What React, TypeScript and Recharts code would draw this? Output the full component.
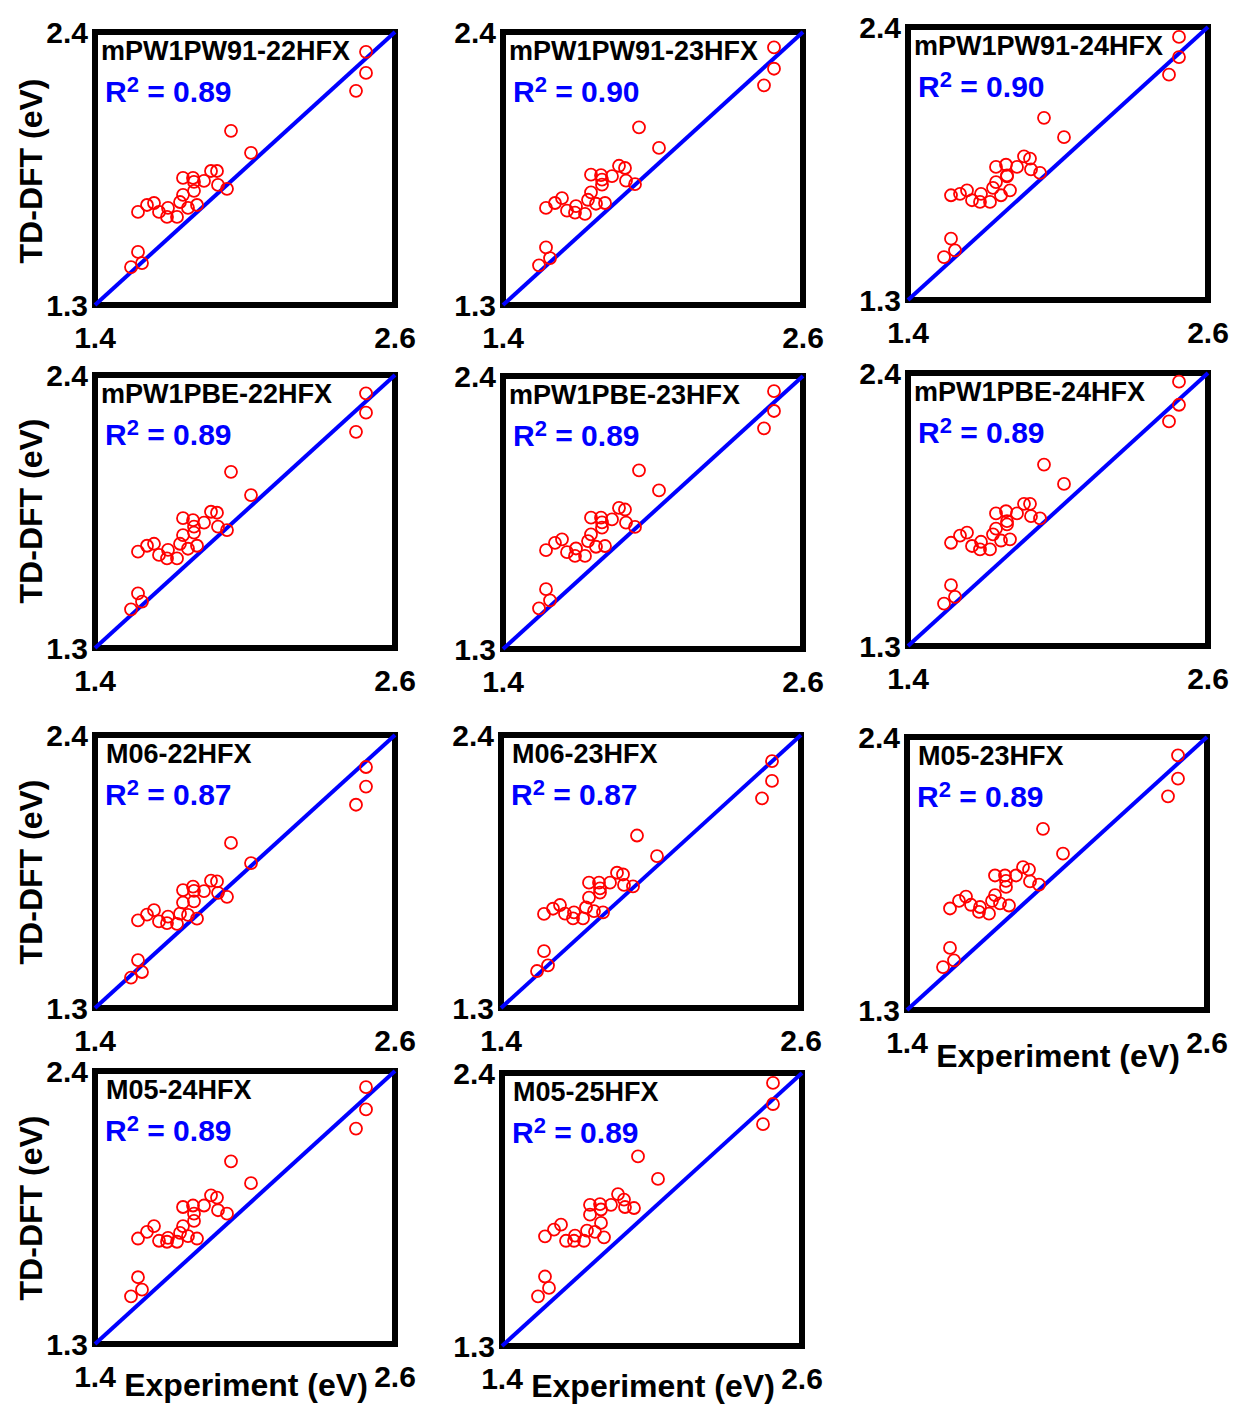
import React from "react";
import {
  ScatterChart,
  Scatter,
  XAxis,
  YAxis,
  ReferenceArea,
  ReferenceLine,
} from "recharts";

// experimental excitation energies (eV), same for every panel
const experiment = [
  2.484, 2.484, 2.444, 1.944, 2.024, 1.864, 1.888, 1.752, 1.792, 1.796,
  1.836, 1.892, 1.928, 1.796, 1.752, 1.740, 1.808, 1.772, 1.608, 1.636,
  1.572, 1.656, 1.692, 1.688, 1.728, 1.572, 1.588, 1.544,
];

// TD-DFT values (eV), one list per functional
const mPW1PW91_22 = [
  2.320, 2.235, 2.163, 2.002, 1.913, 1.840, 1.840, 1.812, 1.812, 1.796,
  1.800, 1.784, 1.768, 1.760, 1.744, 1.715, 1.703, 1.691, 1.703, 1.711,
  1.675, 1.675, 1.691, 1.655, 1.655, 1.514, 1.469, 1.453,
];
const mPW1PW91_23 = [
  2.338, 2.252, 2.185, 2.016, 1.933, 1.861, 1.852, 1.825, 1.823, 1.805,
  1.819, 1.801, 1.787, 1.785, 1.754, 1.724, 1.711, 1.708, 1.711, 1.731,
  1.691, 1.680, 1.698, 1.672, 1.667, 1.532, 1.489, 1.460,
];
const mPW1PW91_24 = [
  2.360, 2.279, 2.208, 2.034, 1.956, 1.879, 1.870, 1.836, 1.845, 1.802,
  1.836, 1.826, 1.812, 1.798, 1.775, 1.752, 1.742, 1.722, 1.728, 1.742,
  1.722, 1.702, 1.728, 1.695, 1.695, 1.547, 1.500, 1.473,
];
const mPW1PBE_22 = [
  2.326, 2.248, 2.171, 2.010, 1.916, 1.849, 1.845, 1.823, 1.815, 1.789,
  1.805, 1.789, 1.775, 1.765, 1.755, 1.720, 1.712, 1.700, 1.712, 1.720,
  1.688, 1.675, 1.695, 1.661, 1.661, 1.520, 1.487, 1.456,
];
const mPW1PBE_23 = [
  2.339, 2.259, 2.189, 2.020, 1.939, 1.869, 1.862, 1.829, 1.829, 1.810,
  1.822, 1.809, 1.792, 1.789, 1.762, 1.735, 1.715, 1.712, 1.728, 1.742,
  1.698, 1.690, 1.705, 1.675, 1.675, 1.541, 1.496, 1.464,
];
const mPW1PBE_24 = [
  2.365, 2.272, 2.205, 2.031, 1.953, 1.873, 1.873, 1.834, 1.843, 1.803,
  1.834, 1.823, 1.814, 1.790, 1.773, 1.750, 1.730, 1.725, 1.745, 1.757,
  1.716, 1.703, 1.720, 1.689, 1.689, 1.545, 1.498, 1.471,
];
const M06_22 = [
  2.271, 2.192, 2.119, 1.965, 1.884, 1.813, 1.810, 1.775, 1.789, 1.772,
  1.771, 1.764, 1.748, 1.730, 1.725, 1.680, 1.660, 1.675, 1.676, 1.694,
  1.653, 1.649, 1.668, 1.642, 1.639, 1.493, 1.445, 1.422,
];
const M06_23 = [
  2.295, 2.215, 2.145, 1.995, 1.912, 1.845, 1.838, 1.805, 1.805, 1.782,
  1.805, 1.796, 1.790, 1.765, 1.745, 1.705, 1.685, 1.690, 1.700, 1.715,
  1.679, 1.680, 1.685, 1.661, 1.661, 1.529, 1.472, 1.449,
];
const M05_23 = [
  2.326, 2.232, 2.161, 2.030, 1.930, 1.876, 1.866, 1.842, 1.842, 1.820,
  1.842, 1.818, 1.805, 1.796, 1.763, 1.740, 1.721, 1.730, 1.740, 1.757,
  1.709, 1.724, 1.715, 1.695, 1.688, 1.550, 1.500, 1.473,
];
const M05_24 = [
  2.335, 2.245, 2.168, 2.036, 1.948, 1.899, 1.890, 1.852, 1.858, 1.825,
  1.858, 1.839, 1.825, 1.796, 1.775, 1.748, 1.725, 1.735, 1.752, 1.775,
  1.725, 1.716, 1.728, 1.712, 1.712, 1.569, 1.519, 1.492,
];
const M05_25 = [
  2.360, 2.275, 2.194, 2.064, 1.973, 1.912, 1.890, 1.869, 1.872, 1.850,
  1.869, 1.860, 1.856, 1.796, 1.829, 1.765, 1.738, 1.760, 1.769, 1.789,
  1.742, 1.724, 1.745, 1.724, 1.724, 1.580, 1.534, 1.500,
];

const titles = [
  "mPW1PW91-22HFX", "mPW1PW91-23HFX", "mPW1PW91-24HFX",
  "mPW1PBE-22HFX", "mPW1PBE-23HFX", "mPW1PBE-24HFX",
  "M06-22HFX", "M06-23HFX", "M05-23HFX",
  "M05-24HFX", "M05-25HFX",
];
const r2Values = ["0.89", "0.90", "0.90", "0.89", "0.89", "0.89", "0.87", "0.87", "0.89", "0.89", "0.89"];
const series = [
  mPW1PW91_22, mPW1PW91_23, mPW1PW91_24,
  mPW1PBE_22, mPW1PBE_23, mPW1PBE_24,
  M06_22, M06_23, M05_23,
  M05_24, M05_25,
];
const xTicks = [1.4, 2.6];
const yTicks = [1.3, 2.4];

// plot-area top-left corner of every panel on the page
const layout = [
  [95, 32], [503, 32], [908, 27],
  [95, 375], [503, 376], [908, 373],
  [95, 735], [501, 735], [907, 737],
  [95, 1071], [502, 1073],
];
const PW = 300;
const PH = 273;
const YW = 70;
const MT = 24;
const MR = 40;

const font = "'Liberation Sans', Arial, Helvetica, sans-serif";

const Ring = (props: any) => {
  const { cx, cy } = props;
  if (cx == null || cy == null) return null;
  return <circle cx={cx} cy={cy} r={6} fill="none" stroke="#ff0000" strokeWidth={1.8} />;
};

function Panel({ idx }: { idx: number }) {
  const [left, top] = layout[idx];
  const data = experiment.map((x, i) => ({ x, y: series[idx][i] }));
  const tickStyle = { fontSize: 30, fontWeight: "bold", fill: "#000", fontFamily: font };
  return (
    <div style={{ position: "absolute", left: left - YW, top: top - MT }}>
      <ScatterChart
        width={YW + PW + MR}
        height={MT + PH + 50}
        margin={{ top: MT, right: MR, left: 0, bottom: 0 }}
        style={{ overflow: "visible" }}
      >
        <XAxis
          type="number"
          dataKey="x"
          domain={[1.4, 2.6]}
          ticks={xTicks}
          interval={0}
          allowDataOverflow
          axisLine={false}
          tickLine={false}
          tickSize={0}
          tickMargin={22}
          height={50}
          tick={tickStyle}
        />
        <YAxis
          type="number"
          dataKey="y"
          domain={[1.3, 2.4]}
          ticks={yTicks}
          interval={0}
          allowDataOverflow
          axisLine={false}
          tickLine={false}
          tickSize={0}
          tickMargin={7}
          width={YW}
          tick={tickStyle}
        />
        <ReferenceArea
          x1={1.4}
          x2={2.6}
          y1={1.3}
          y2={2.4}
          fill="none"
          fillOpacity={0}
          stroke="#000"
          strokeWidth={6}
          ifOverflow="visible"
        />
        <Scatter data={data} shape={Ring} isAnimationActive={false} />
        <ReferenceLine
          segment={[{ x: 1.4, y: 1.3 }, { x: 2.6, y: 2.4 }]}
          stroke="#0000ff"
          strokeWidth={4}
          ifOverflow="visible"
        />
      </ScatterChart>
    </div>
  );
}

export default function App() {
  return (
    <div style={{ position: "absolute", left: 0, top: 0, width: 1235, height: 1405, background: "#fff" }}>
      {titles.map((_, i) => (
        <Panel key={i} idx={i} />
      ))}
      <svg
        width={1235}
        height={1405}
        style={{ position: "absolute", left: 0, top: 0, pointerEvents: "none" }}
        fontFamily={font}
        fontWeight="bold"
      >
        {titles.map((t, i) => {
          const [left, top] = layout[i];
          const indent = t.startsWith("mPW") ? 6 : 11;
          return (
            <g key={t}>
              <text x={left + indent} y={top + 28} fontSize={27} fill="#000">
                {t}
              </text>
              <text x={left + 10} y={top + 70} fontSize={30} fill="#0000ff">
                R<tspan dy={-10} fontSize={22}>2</tspan>
                <tspan dy={10}>{" = " + r2Values[i]}</tspan>
              </text>
            </g>
          );
        })}
        {[171, 511, 872, 1208].map((cy) => (
          <text
            key={cy}
            x={42}
            y={cy}
            fontSize={32}
            textAnchor="middle"
            transform={`rotate(-90 42 ${cy})`}
            fill="#000"
          >
            TD-DFT (eV)
          </text>
        ))}
        <text x={1058} y={1067} fontSize={32} textAnchor="middle" fill="#000">Experiment (eV)</text>
        <text x={246} y={1396} fontSize={32} textAnchor="middle" fill="#000">Experiment (eV)</text>
        <text x={653} y={1397} fontSize={32} textAnchor="middle" fill="#000">Experiment (eV)</text>
      </svg>
    </div>
  );
}
